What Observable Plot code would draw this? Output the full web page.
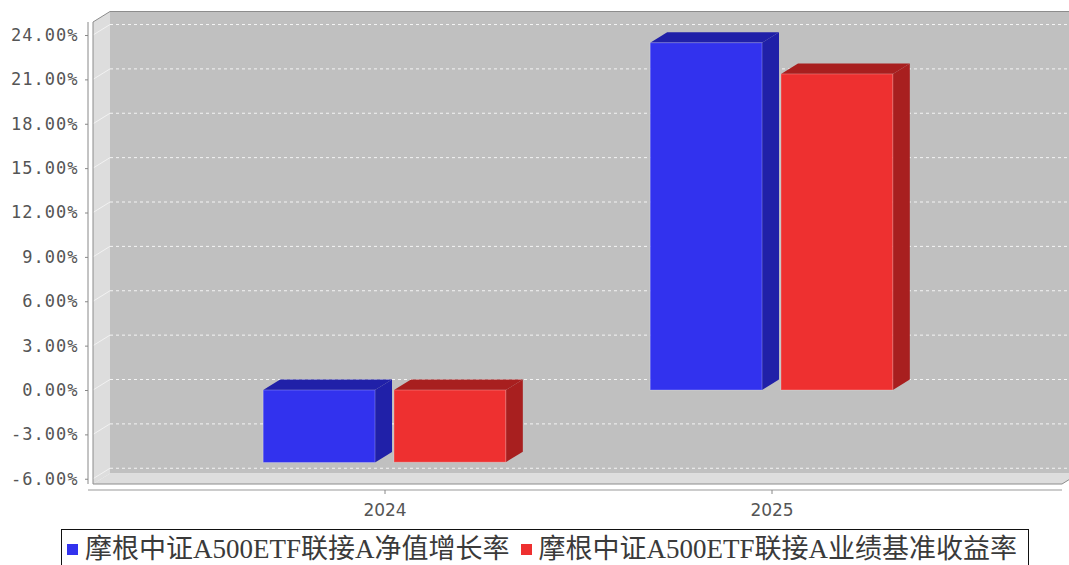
<!DOCTYPE html>
<html><head><meta charset="utf-8">
<script src="https://cdn.jsdelivr.net/npm/d3@7"></script>
<script src="https://cdn.jsdelivr.net/npm/@observablehq/plot@0.6"></script>
<style>
body{margin:0;background:#fff;width:1069px;height:565px;overflow:hidden;position:relative;}
#chart{position:absolute;left:0;top:0;}
#legend{position:absolute;left:61px;top:529px;width:968px;height:44px;border:1px solid #111;box-sizing:border-box;display:flex;align-items:flex-start;padding-left:5px;padding-top:1px;font-family:"Liberation Serif","Noto Sans CJK SC",serif;font-size:27px;line-height:36px;color:#3a3a3a;white-space:nowrap;background:#fff;}
#legend .item{display:flex;align-items:center;margin-right:11px;}
#legend .sw{width:11px;height:11px;margin-right:7px;flex:none;}
g[aria-label="y-axis tick label"] text{letter-spacing:1px;}
</style></head><body><div id="chart"></div><div id="legend"></div>
<script>
const years = ["2024", "2025"];
const seriesNames = ["摩根中证A500ETF联接A净值增长率", "摩根中证A500ETF联接A业绩基准收益率"];
const navGrowth = [-4.90, 23.48];
const benchmark = [-4.88, 21.37];
const yTicks = [-6, -3, 0, 3, 6, 9, 12, 15, 18, 21, 24];
const yDomain = [-6.355, 24.88];
const frontColors = ["#3232ee", "#ee3030"];
const sideColors = ["#2020a8", "#a81f1f"];

const rows = [];
years.forEach((yr, i) => {
  rows.push({year: yr, s: 0, value: navGrowth[i]});
  rows.push({year: yr, s: 1, value: benchmark[i]});
});

const W = 1069, H = 525;
const DX = 17, DY = -10.5;

function walls(index, scales, values, dim) {
  const g = d3.create("svg:g");
  const x0 = dim.marginLeft, x1 = dim.width - dim.marginRight;
  const yT = scales.y(yDomain[1]), yB = scales.y(yDomain[0]);
  g.append("rect").attr("x", x0 + DX).attr("y", yT + DY).attr("width", x1 - x0).attr("height", yB - yT).attr("fill", "#c0c0c0");
  g.append("polygon").attr("points", [[x0, yT], [x0 + DX, yT + DY], [x0 + DX, yB + DY], [x0, yB]].join(" ")).attr("fill", "#dddddd");
  g.append("polygon").attr("points", [[x0, yB], [x0 + DX, yB + DY], [x1 + DX, yB + DY], [x1, yB]].join(" ")).attr("fill", "#dddddd");
  for (const t of yTicks) {
    const yy = scales.y(t);
    g.append("line").attr("x1", x0 + DX).attr("x2", x1 + DX).attr("y1", yy + DY).attr("y2", yy + DY)
      .attr("stroke", "#f4f4f4").attr("stroke-dasharray", "3,3").attr("stroke-width", 1);
    g.append("line").attr("x1", x0).attr("x2", x0 + DX).attr("y1", yy).attr("y2", yy + DY)
      .attr("stroke", "#ffffff").attr("stroke-opacity", 0.6).attr("stroke-width", 1);
  }
  g.append("path").attr("d", `M${x0},${yB}L${x0},${yT}L${x0 + DX},${yT + DY}L${x1 + DX},${yT + DY}M${x0},${yB}L${x1},${yB}L${x1 + DX},${yB + DY}`)
    .attr("fill", "none").attr("stroke", "#8c8c8c").attr("stroke-width", 1);
  g.append("line").attr("x1", x0 - 5).attr("x2", x0 - 5).attr("y1", yT).attr("y2", yB).attr("stroke", "#888");
  g.append("line").attr("x1", x0 - 5).attr("x2", x1).attr("y1", yB + 6).attr("y2", yB + 6).attr("stroke", "#999");
  return g.node();
}

function bars3d(index, scales, values, dim) {
  const g = d3.create("svg:g");
  let bw = scales.x.bandwidth;
  if (typeof bw === "function") bw = bw();
  if (!(bw > 0)) bw = scales.x(years[1]) - scales.x(years[0]);
  const groupW = bw * 0.627;
  for (const r of rows) {
    const c = scales.x(r.year) + bw / 2;
    const sub = d3.scaleBand().domain([0, 1]).range([c - groupW / 2, c + groupW / 2]).paddingInner(0.145);
    const bx0 = sub(r.s), bx1 = bx0 + sub.bandwidth();
    const yTop = scales.y(Math.max(r.value, 0)), yBot = scales.y(Math.min(r.value, 0));
    g.append("polygon").attr("points", [[bx0, yTop], [bx0 + DX, yTop + DY], [bx1 + DX, yTop + DY], [bx1, yTop]].join(" "))
      .attr("fill", sideColors[r.s]);
    g.append("polygon").attr("points", [[bx1, yTop], [bx1 + DX, yTop + DY], [bx1 + DX, yBot + DY], [bx1, yBot]].join(" "))
      .attr("fill", sideColors[r.s]);
    g.append("rect").attr("x", bx0).attr("y", yTop).attr("width", bx1 - bx0).attr("height", yBot - yTop)
      .attr("fill", frontColors[r.s]).attr("stroke", "#ffffff").attr("stroke-opacity", 0.25).attr("stroke-width", 1);
  }
  return g.node();
}

const chart = Plot.plot({
  width: W,
  height: H,
  marginLeft: 93,
  marginRight: 7,
  marginTop: 22,
  marginBottom: H - 490,
  style: {background: "transparent", color: "#555", fontFamily: "DejaVu Sans"},
  x: {type: "band", domain: years, range: [190, 965], padding: 0},
  y: {domain: yDomain, range: [484, 22]},
  marks: [
    walls,
    bars3d,
    Plot.axisY(yTicks, {tickFormat: d => d.toFixed(2) + "%", tickSize: 3, tickPadding: 7, dx: -5, fontSize: 17, fontFamily: "DejaVu Sans Mono", fill: "#555", stroke: "#888", label: null}),
    Plot.axisX(years, {tickSize: 4, tickPadding: 9, fontSize: 17, fontFamily: "DejaVu Sans", fill: "#555", stroke: "#888", label: null})
  ]
});
document.getElementById("chart").appendChild(chart);

const legend = document.getElementById("legend");
seriesNames.forEach((name, i) => {
  const item = document.createElement("div");
  item.className = "item";
  const sw = document.createElement("span");
  sw.className = "sw";
  sw.style.background = frontColors[i];
  const tx = document.createElement("span");
  tx.textContent = name;
  item.appendChild(sw);
  item.appendChild(tx);
  legend.appendChild(item);
});
</script>
</body></html>
